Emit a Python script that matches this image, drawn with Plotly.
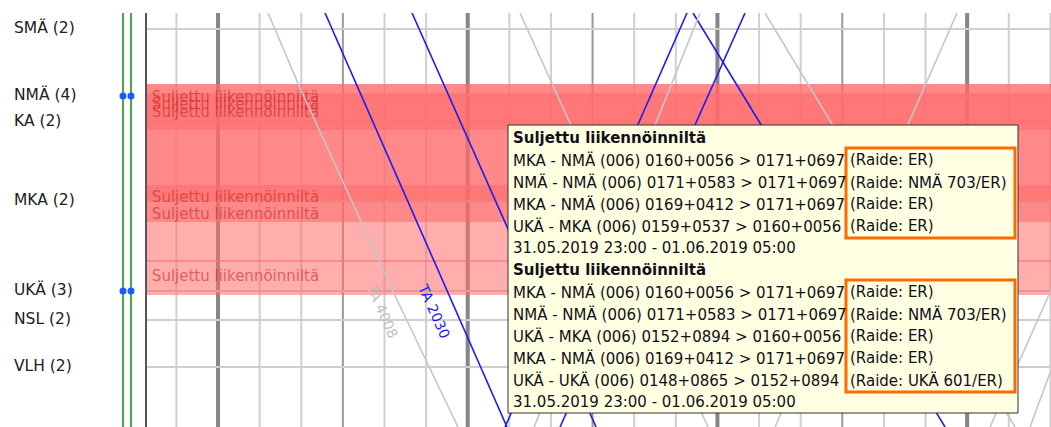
import numpy as np
import pandas as pd
import plotly.graph_objects as go

# Liikennepaikat ja niiden sijainti (ratakilometri)
station_names = ["SMÄ (2)", "NMÄ (4)", "KA (2)", "MKA (2)", "UKÄ (3)", "NSL (2)", "VLH (2)"]
station_km = [178.4, 171.7, 169.1, 161.2, 152.2, 149.3, 144.6]
marked_stations = ["NMÄ (4)", "UKÄ (3)"]

# Suljetut rataosat (km-välit) ja niiden tekstit
closure_from = [159.1, 168.3, 168.3, 155.1, 161.3, 151.8]
closure_to = [172.9, 172.9, 172.0, 168.3, 162.8, 155.3]
closure_label_km = [171.5, 170.8, 170.0, 161.5, 159.8, 153.6]
closure_start = "2019-05-31 23:00"
closure_end = "2019-06-01 05:00"
closure_text = "Suljettu liikennöinniltä"

# Junat: kellonajat ja km-sijainnit
train_names = ["TA 4008", "TA 2030", "B2", "G2", "B4", "G5", "B3", "B5", "G3", "G6", "G7", "G8"]
train_own = [False, True, True, False, True, False, True, True, False, False, False, False]
train_times = [
    ["2019-06-01 00:12:01", "2019-06-01 00:19:42", "2019-06-01 00:43:01", "2019-06-01 00:57:40"],
    ["2019-06-01 00:25:43", "2019-06-01 01:09:26"],
    ["2019-06-01 00:46:37", "2019-06-01 01:30:50"],
    ["2019-06-01 01:12:34", "2019-06-01 01:57:44"],
    ["2019-06-01 01:54:08", "2019-06-01 02:54:41"],
    ["2019-06-01 02:11:26", "2019-06-01 03:11:31"],
    ["2019-06-01 01:52:41", "2019-06-01 01:08:58"],
    ["2019-06-01 02:06:38", "2019-06-01 01:22:11"],
    ["2019-06-01 01:55:49", "2019-06-01 01:15:56"],
    ["2019-06-01 02:57:34", "2019-06-01 02:13:50"],
    ["2019-06-01 03:20:10", "2019-06-01 03:05:30"],
    ["2019-06-01 03:20:10", "2019-06-01 03:15:07"],
]
train_km = [
    [180.0, 172.5, 151.3, 138.6],
    [180.0, 138.6],
    [180.0, 138.6],
    [180.0, 138.6],
    [180.0, 138.6],
    [180.0, 138.6],
    [180.0, 138.6],
    [180.0, 138.6],
    [180.0, 138.6],
    [180.0, 138.6],
    [152.3, 138.6],
    [144.3, 138.6],
]
labelled_trains = ["TA 4008", "TA 2030"]
train_label_km = 150.2

# Työkaluvihje
tip_title = "Suljettu liikennöinniltä"
tip_period = "31.05.2019 23:00 - 01.06.2019 05:00"
tip1_sections = [
    "MKA - NMÄ (006) 0160+0056 > 0171+0697",
    "NMÄ - NMÄ (006) 0171+0583 > 0171+0697",
    "MKA - NMÄ (006) 0169+0412 > 0171+0697",
    "UKÄ - MKA (006) 0159+0537 > 0160+0056",
]
tip1_tracks = ["(Raide: ER)", "(Raide: NMÄ 703/ER)", "(Raide: ER)", "(Raide: ER)"]
tip2_sections = [
    "MKA - NMÄ (006) 0160+0056 > 0171+0697",
    "NMÄ - NMÄ (006) 0171+0583 > 0171+0697",
    "UKÄ - MKA (006) 0152+0894 > 0160+0056",
    "MKA - NMÄ (006) 0169+0412 > 0171+0697",
    "UKÄ - UKÄ (006) 0148+0865 > 0152+0894",
]
tip2_tracks = ["(Raide: ER)", "(Raide: NMÄ 703/ER)", "(Raide: ER)", "(Raide: ER)", "(Raide: UKÄ 601/ER)"]

W, H = 1051, 427
PL, PT = 147, 13
FONT = "DejaVu Sans"
x_start = pd.Timestamp("2019-05-31 23:42:56")
x_end = pd.Timestamp("2019-06-01 03:20:09")
y_range = [138.6, 180.0]


def px_x(px):
    return px / W


def px_y(py):
    return (H - py) / (H - PT)


fig = go.Figure()
shapes = []

# aikaristikko
for t in pd.date_range("2019-05-31 23:50", "2019-06-01 03:20", freq="10min"):
    if t.minute == 0:
        col, w = "#868686", 4
    elif t.minute == 30:
        col, w = "#9a9a9a", 2
    else:
        col, w = "#d0d0d0", 2
    shapes.append(dict(type="line", xref="x", yref="paper", x0=t, x1=t, y0=0, y1=1,
                       line=dict(color=col, width=w), layer="below"))
for km in station_km:
    shapes.append(dict(type="line", xref="paper", yref="y", x0=PL / W, x1=1, y0=km, y1=km,
                       line=dict(color="#cfcfcf", width=2), layer="below"))

# suljetut alueet
for k0, k1 in zip(closure_from, closure_to):
    shapes.append(dict(type="rect", xref="x", yref="y", x0=closure_start, x1=closure_end,
                       y0=k0, y1=k1, line=dict(width=0),
                       fillcolor="rgba(255,105,105,0.55)", layer="below"))

fig.add_trace(go.Scatter(
    x=[x_start + pd.Timedelta(seconds=70)] * len(closure_label_km), y=closure_label_km,
    mode="text", text=[closure_text] * len(closure_label_km), textposition="middle right",
    textfont=dict(family=FONT, size=15, color="rgba(200,40,40,0.6)"),
    hoverinfo="skip", showlegend=False))

# junat
for name, own, times, kms in zip(train_names, train_own, train_times, train_km):
    fig.add_trace(go.Scatter(
        x=pd.to_datetime(times), y=kms, mode="lines", name=name,
        line=dict(color="#1c1cf0" if own else "#c6c6c6", width=1.6),
        hoverinfo="skip", showlegend=False))

annotations = []
for name, own, times, kms in zip(train_names, train_own, train_times, train_km):
    if name not in labelled_trains:
        continue
    ns = pd.to_datetime(times).astype("int64").to_numpy()
    order = np.argsort(kms)
    t_lab = pd.Timestamp(int(np.interp(train_label_km, np.array(kms)[order], ns[order])))
    annotations.append(dict(
        x=t_lab, y=train_label_km, xref="x", yref="y", text=name, showarrow=False,
        textangle=66, xshift=-22 if own else -20,
        font=dict(family=FONT, size=14, color="#1c1cf0" if own else "#c0c0c0")))

# vasen palkki: liikennepaikat ja raiteet
fig.add_trace(go.Scatter(
    x=[14] * len(station_names), y=station_km, xaxis="x2", mode="text",
    text=station_names, textposition="middle right",
    textfont=dict(family=FONT, size=15.5, color="#202020"),
    hoverinfo="skip", showlegend=False))
marked_km = [km for n, km in zip(station_names, station_km) if n in marked_stations]
for gx in (123, 131):
    fig.add_trace(go.Scatter(
        x=[gx, gx], y=y_range, xaxis="x2", mode="lines",
        line=dict(color="#46a846", width=2), hoverinfo="skip", showlegend=False))
    fig.add_trace(go.Scatter(
        x=[gx] * len(marked_km), y=marked_km, xaxis="x2", mode="markers",
        marker=dict(color="#1a5cff", size=7), hoverinfo="skip", showlegend=False))

# työkaluvihje
TIP_L, TIP_R, TIP_T, TIP_B = 508, 1018, 125, 413
TIP_FONT = dict(family=FONT, size=15, color="#101018")
shapes.append(dict(type="rect", xref="paper", yref="paper",
                   x0=px_x(TIP_L), x1=px_x(TIP_R), y0=px_y(TIP_B), y1=px_y(TIP_T),
                   fillcolor="#ffffe1", line=dict(color="#303030", width=1), layer="above"))


def tip_text(px, py, text):
    annotations.append(dict(xref="paper", yref="paper", x=px_x(px), y=px_y(py),
                            xanchor="left", yanchor="middle", showarrow=False,
                            text=text, font=TIP_FONT))


row = 138
for sections, tracks in ((tip1_sections, tip1_tracks), (tip2_sections, tip2_tracks)):
    tip_text(511, row, "<b>" + tip_title + "</b>")
    first = row + 22
    for sec, trk in zip(sections, tracks):
        row += 22
        tip_text(511, row, sec)
        tip_text(848, row, trk)
    shapes.append(dict(type="rect", xref="paper", yref="paper",
                       x0=px_x(846), x1=px_x(1015), y0=px_y(row + 12), y1=px_y(first - 12),
                       line=dict(color="#ff6a00", width=3), layer="above"))
    row += 22
    tip_text(511, row, tip_period)
    row += 22

fig.update_layout(
    width=W, height=H,
    margin=dict(l=0, r=0, t=PT, b=0),
    paper_bgcolor="white", plot_bgcolor="white",
    xaxis=dict(domain=[PL / W, 1], range=[x_start, x_end], showgrid=False,
               showticklabels=False, zeroline=False, ticks=""),
    xaxis2=dict(domain=[0, PL / W], range=[0, PL], visible=False, anchor="y"),
    yaxis=dict(range=y_range, showgrid=False, showticklabels=False, zeroline=False,
               showline=True, linecolor="#555555", linewidth=2, ticks=""),
    shapes=shapes, annotations=annotations,
    showlegend=False,
)

fig.write_html("out.html", config={"displayModeBar": False},
               post_script="document.body.style.margin='0';")
